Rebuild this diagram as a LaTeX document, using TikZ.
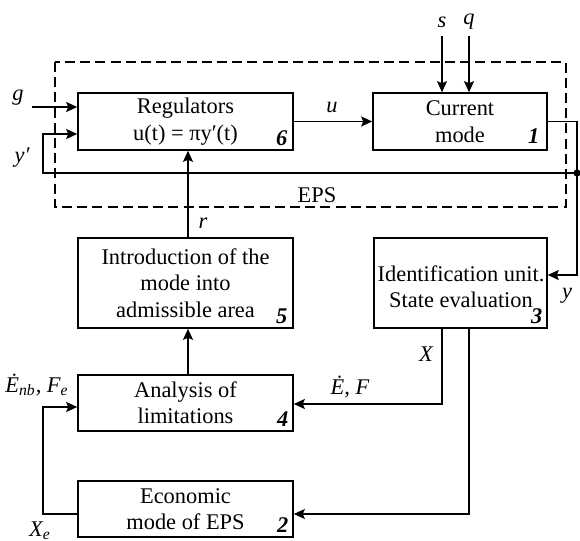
\documentclass[tikz,border=0pt]{standalone}
\usepackage{fontspec}
\setmainfont{Liberation Serif}
\usetikzlibrary{arrows.meta,calc}
\begin{document}
\begin{tikzpicture}[x=0.5pt,y=-0.5pt,
  font=\fontsize{11.2}{13.2}\selectfont,
  box/.style={draw,line width=0.8pt,rectangle,align=center,inner sep=0pt,minimum width=107.5pt},
  conn/.style={line width=0.7pt},
  arr/.style={conn,-{Stealth[length=5.5pt,width=5pt,inset=1pt]}},
  lab/.style={inner sep=0pt,font=\fontsize{11.2}{13.2}\selectfont\itshape},
  num/.style={inner sep=0pt,anchor=base east,font=\fontsize{11.2}{13.2}\selectfont\bfseries\itshape}]
\useasboundingbox (0,0) rectangle (580,541);
% EPS dashed frame
\draw[line width=0.65pt,dash pattern=on 5pt off 2.6pt] (55,62) rectangle (566,207);
\node[inner sep=0pt] (eps) at (317,195) {EPS};
% boxes
\node[box,minimum height=28.5pt] (b6) at (185.5,121.5) {Regulators\\u(t) = πy′(t)};
\node[box,minimum width=87pt,minimum height=28.5pt] (b1) at (460,121.5) {Current\\mode};
\node[box,minimum height=45pt] (b5) at (185.5,283) {Introduction of the\\mode into\\admissible area};
\node[box,minimum width=86.5pt,minimum height=45pt] (b3) at (460.5,283) {};
\node[inner sep=0pt,align=center] (t3) at (461,287) {Identification unit.\\State evaluation};
\node[box,minimum height=28pt] (b4) at (185.5,403) {Analysis of\\limitations};
\node[box,minimum height=28pt] (b2) at (185.5,509) {Economic\\mode of EPS};
% numbers
\node[num] (n6) at ($(b6.south east)+(-6,-5)$) {6};
\node[num] (n1) at ($(b1.south east)+(-8,-7)$) {1};
\node[num] (n5) at ($(b5.south east)+(-6,-5)$) {5};
\node[num] (n3) at ($(b3.south east)+(-5,-5)$) {3};
\node[num] (n4) at ($(b4.south east)+(-5,-5)$) {4};
\node[num] (n2) at ($(b2.south east)+(-5,-5)$) {2};
% coordinates
\coordinate (gin) at (32,107);
\coordinate (sin) at (442,36);
\coordinate (qin) at (469,36);
\coordinate (tap) at (577,173);
\coordinate (yc) at (577,275);
\coordinate (fb1) at (43,173);
\coordinate (fb2) at (43,134);
\coordinate (xs) at (442,404);
\coordinate (es) at (469,514);
\coordinate (xe1) at (43,514);
\coordinate (xe2) at (43,407);
% connectors
\draw[arr] (gin) -- (gin -| b6.west);
\draw[arr] (b6.east) -- (b1.west);
\draw[arr] (sin) -- (sin |- b1.north);
\draw[arr] (qin) -- (qin |- b1.north);
\draw[arr] (b1.east) -| (yc) -- (yc -| b3.east);
\draw[arr] (tap) -- (fb1) -- (fb2) -- (fb2 -| b6.west);
\fill (tap) circle[radius=1.8pt];
\draw[arr] ([xshift=1.25pt]b5.north) -- ([xshift=1.25pt]b6.south);
\draw[arr] ([xshift=1.25pt]b4.north) -- ([xshift=1.25pt]b5.south);
\draw[arr] (xs |- b3.south) -- (xs) -- (xs -| b4.east);
\draw[arr] (es |- b3.south) -- (es) -- (es -| b2.east);
\draw[arr] (xe1 -| b2.west) -- (xe1) -- (xe2) -- (xe2 -| b4.west);
% labels
\node[lab] (lg) at (18,98) {g};
\node[lab] (ly1) at (22,158) {y′};
\node[lab] (lu) at (332,107) {u};
\node[lab] (ls) at (442,22) {s};
\node[lab] (lq) at (469,22) {q};
\node[lab] (lr) at (203,223) {r};
\node[lab] (ly) at (567,296) {y};
\node[lab] (lx) at (426,354) {X};
\node[lab] (lef) at (350,387) {Ė, F};
\node[lab] (lenb) at (37,385) {Ė\textsubscript{nb}, F\textsubscript{e}};
\node[lab,anchor=south] (lxe) at (40,540) {X\textsubscript{e}};
\end{tikzpicture}
\end{document}
